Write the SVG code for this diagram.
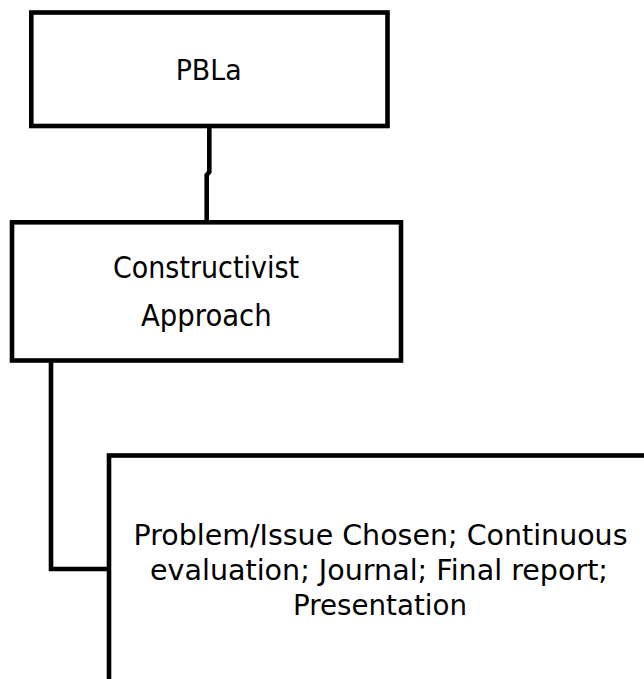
<svg xmlns="http://www.w3.org/2000/svg" width="644" height="679" viewBox="0 0 644 679">
<style>
.box{fill:#fff;stroke:#000;stroke-width:4.6;stroke-linejoin:miter}
.conn{fill:none;stroke:#000;stroke-width:4.6;stroke-linejoin:miter}
.t{font-family:"DejaVu Sans","Liberation Sans",sans-serif;fill:#000;text-anchor:middle}
</style>
<rect width="644" height="679" fill="#fff"/>
<g id="connectors">
<path class="conn" d="M209.3 126 V172 L206.7 175 V222"/>
<path class="conn" d="M51 360.5 V569 H109"/>
</g>
<g id="node-pbla">
<rect class="box" x="31.3" y="12.5" width="356.2" height="113.5"/>
<text class="t" x="208.7" y="80" font-size="28" textLength="66" lengthAdjust="spacingAndGlyphs">PBLa</text>
</g>
<g id="node-constructivist">
<rect class="box" x="12" y="222.3" width="389" height="138.2"/>
<text class="t" x="206" y="278" font-size="30" textLength="186" lengthAdjust="spacingAndGlyphs">Constructivist</text>
<text class="t" x="206.3" y="326" font-size="30" textLength="130.7" lengthAdjust="spacingAndGlyphs">Approach</text>
</g>
<g id="node-assessment">
<rect class="box" x="109" y="455.5" width="545" height="240"/>
<text class="t" x="380.5" y="545" font-size="27.5" textLength="494" lengthAdjust="spacingAndGlyphs">Problem/Issue Chosen; Continuous</text>
<text class="t" x="379" y="579.5" font-size="27.5" textLength="458" lengthAdjust="spacingAndGlyphs">evaluation; Journal; Final report;</text>
<text class="t" x="380" y="615" font-size="27.5" textLength="174" lengthAdjust="spacingAndGlyphs">Presentation</text>
</g>
</svg>
